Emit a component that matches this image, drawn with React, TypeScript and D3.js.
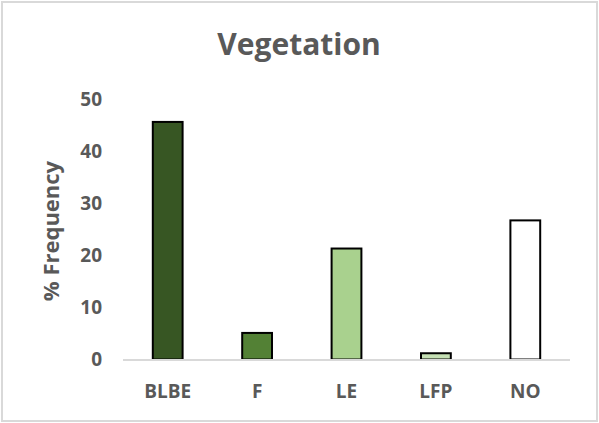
import React from "react";
import * as d3 from "d3";

const categories = ["BLBE", "F", "LE", "LFP", "NO"];
const values = [45.6, 5.1, 21.3, 1.2, 26.7];
const colors = ["#375623", "#538135", "#a9d18e", "#c5e0b4", "#ffffff"];
const yTicks = [0, 10, 20, 30, 40, 50];
const title = "Vegetation";
const yTitle = "% Frequency";

const W = 599;
const H = 423;
const FONT = "'Open Sans', 'DejaVu Sans', sans-serif";
const TEXT = "#595959";

export default function App() {
  const x = d3.scaleBand<string>().domain(categories).range([123, 570]).paddingInner(2 / 3).paddingOuter(1 / 3);
  const y = d3.scaleLinear().domain([0, 50]).range([359.5, 99]);
  return (
    <svg width={W} height={H} style={{ position: "absolute", left: 0, top: 0 }} fontFamily={FONT}>
      <rect x={0} y={0} width={W} height={H} fill="#ffffff" />
      <rect x={2} y={2} width={595} height={419} fill="none" stroke="#d9d9d9" strokeWidth={2} />
      <text x={299} y={55} textAnchor="middle" fontSize={30} fontWeight="bold" fill={TEXT}>
        {title}
      </text>
      {yTicks.map((t) => (
        <text key={t} x={102} y={y(t)} dy="0.35em" textAnchor="end" fontSize={19} fontWeight="bold" fill={TEXT}>
          {t}
        </text>
      ))}
      <text
        transform={`translate(59,231) rotate(-90)`}
        textAnchor="middle"
        fontSize={22}
        fontWeight="bold"
        fill={TEXT}
      >
        {yTitle}
      </text>
      {categories.map((c, i) => (
        <rect
          key={c}
          x={x(c)!}
          y={y(values[i])}
          width={x.bandwidth()}
          height={y(0) - y(values[i])}
          fill={colors[i]}
          stroke="#000000"
          strokeWidth={2}
        />
      ))}
      <line x1={123} x2={570} y1={y(0) + 0.5} y2={y(0) + 0.5} stroke="#d9d9d9" strokeWidth={2} />
      {categories.map((c) => (
        <text
          key={c}
          x={x(c)! + x.bandwidth() / 2}
          y={397.5}
          textAnchor="middle"
          fontSize={19}
          fontWeight="bold"
          fill={TEXT}
        >
          {c}
        </text>
      ))}
    </svg>
  );
}
